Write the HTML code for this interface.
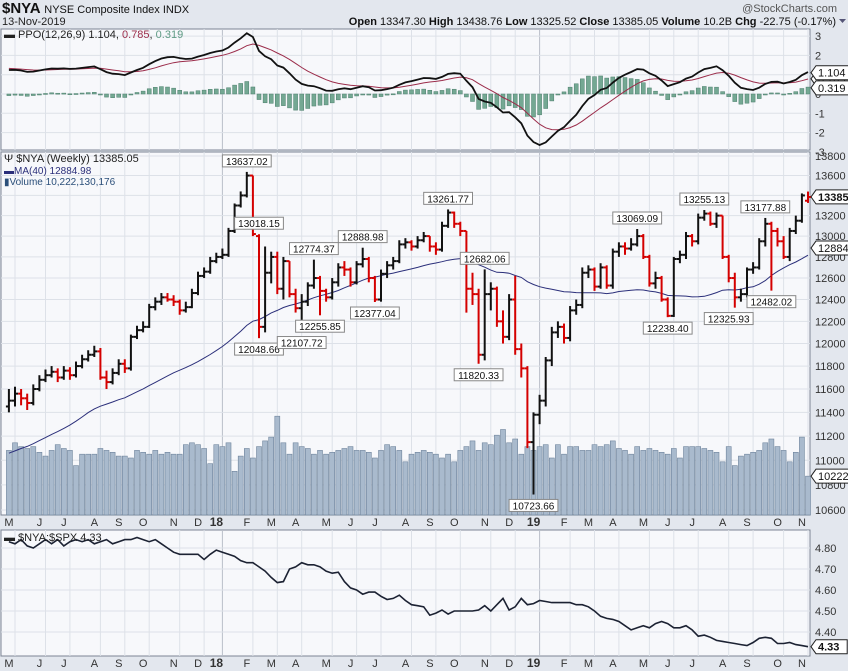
<!DOCTYPE html>
<html><head><meta charset="utf-8">
<style>
body{margin:0;background:#e3e7ee;font-family:"Liberation Sans",sans-serif;}
svg{display:block}
text{font-family:"Liberation Sans",sans-serif;}
</style></head><body>
<svg id="c" width="848" height="671" viewBox="0 0 848 671" xmlns="http://www.w3.org/2000/svg">
<rect x="0" y="0" width="848" height="671" fill="#e3e7ee"/>
<g>
<text x="2" y="13" font-size="15" font-weight="bold" fill="#111">$NYA <tspan font-size="11" font-weight="normal">NYSE Composite Index  INDX</tspan></text>
<text x="2" y="25" font-size="11" fill="#222">13-Nov-2019</text>
<text x="837" y="12" font-size="11" fill="#555" text-anchor="end">@StockCharts.com</text>
<text x="836" y="25" font-size="11" fill="#111" text-anchor="end"><tspan font-weight="bold">Open</tspan> 13347.30 <tspan font-weight="bold">High</tspan> 13438.76 <tspan font-weight="bold">Low</tspan> 13325.52 <tspan font-weight="bold">Close</tspan> 13385.05 <tspan font-weight="bold">Volume</tspan> 10.2B <tspan font-weight="bold">Chg</tspan> -22.75 (-0.17%)</text>
<path d="M839 19 l7 0 l-3.5 4z" fill="#557"/>
</g>
<g id="ppoP"></g>
<g id="mainP"></g>
<g id="ratP"></g>
</svg>
<script>
const closes=[11500,11560,11520,11480,11600,11680,11720,11750,11700,11760,11720,11800,11860,11900,11930,11700,11660,11740,11820,11780,12060,12120,12150,12330,12380,12420,12400,12380,12300,12330,12460,12620,12660,12760,12800,12820,13050,13300,13400,13600,13020,12150,12650,12800,12500,12760,12450,12320,12380,12530,12600,12480,12420,12560,12700,12680,12560,12730,12780,12600,12400,12640,12720,12760,12920,12940,12900,12960,13000,12900,12870,13100,13230,13120,13050,12500,12450,11900,12450,12500,12200,12060,12400,11950,11780,11150,11380,11500,11850,12100,12150,12050,12300,12350,12650,12680,12520,12700,12530,12850,12900,12880,12920,13000,12800,12550,12600,12400,12250,12780,12820,13000,12950,13180,13220,13120,13200,12800,12600,12420,12450,12680,12700,12950,13120,13050,12950,12800,13050,13150,13400,13385.05];
const opens=[11450,11500,11560,11520,11480,11600,11680,11720,11750,11700,11760,11720,11800,11860,11900,11930,11700,11660,11740,11820,11780,12060,12120,12150,12330,12380,12420,12400,12380,12300,12330,12460,12620,12660,12760,12800,12820,13050,13300,13400,13600,13000,12150,12650,12800,12500,12760,12450,12320,12380,12530,12600,12480,12420,12560,12700,12680,12560,12730,12780,12600,12400,12640,12720,12760,12920,12940,12900,12960,13000,12900,12870,13100,13230,13120,13050,12500,12450,11900,12450,12500,12200,12060,12400,11950,11780,11150,11380,11500,11850,12100,12150,12050,12300,12350,12650,12680,12520,12700,12530,12850,12900,12880,12920,13000,12800,12550,12600,12400,12250,12780,12820,13000,12950,13180,13220,13120,13200,12800,12600,12420,12450,12680,12700,12950,13120,13050,12950,12800,13050,13150,13347.3];
const highs=[11600,11620,11600,11560,11640,11720,11770,11800,11780,11800,11790,11840,11900,11940,11980,11960,11760,11780,11860,11860,12080,12160,12200,12360,12420,12460,12460,12440,12400,12380,12500,12660,12700,12800,12840,12880,13080,13320,13440,13637,13600,13018,12900,12850,12850,12800,12760,12500,12450,12560,12774,12620,12500,12600,12740,12760,12700,12760,12888,12800,12620,12680,12760,12800,12960,12980,12960,13000,13040,13000,12940,13140,13261,13240,13140,13050,12650,12500,12682,12560,12520,12300,12450,12620,12000,11800,11400,11550,11880,12150,12200,12180,12340,12400,12700,12720,12700,12740,12720,12880,12940,12940,12980,13069,13020,12820,12660,12620,12420,12800,12860,13040,13020,13220,13255,13240,13230,13200,12820,12650,12500,12700,12750,12980,13177,13140,13080,13000,13080,13200,13420,13438.76];
const lows=[11400,11450,11460,11420,11460,11580,11660,11700,11660,11680,11680,11700,11780,11840,11880,11680,11600,11640,11720,11740,11760,12040,12100,12140,12300,12350,12380,12340,12260,12280,12320,12440,12600,12640,12740,12780,12800,13030,13280,13380,13000,12048,12100,12550,12450,12400,12420,12280,12107,12340,12500,12255,12380,12400,12520,12620,12520,12540,12700,12560,12377,12380,12600,12680,12740,12880,12860,12880,12940,12850,12820,12850,13080,13080,13000,12280,12350,11820,11850,12300,12150,12000,12030,11900,11700,11100,10723,11300,11450,11800,12050,12000,12020,12260,12320,12600,12480,12500,12500,12500,12800,12820,12860,12900,12780,12520,12500,12380,12238,12240,12740,12780,12900,12920,13150,13100,13080,12780,12560,12325,12380,12420,12640,12680,12900,12482,12900,12780,12760,13020,13130,13325.52];
const priorCloses=[10800,10750,10780,10700,10650,10720,10680,10750,10700,10600,10500,10450,10400,10650,10800,10950,11000,11050,11100,11050,11080,11150,11200,11250,11300,11250,11320,11380,11420,11450,11500,11450,11480,11400,11350,11380,11420,11480,11500];
const volumesB=[17,19,18,17.5,18,16.5,15.5,17,18.5,17.5,17,13,16,16,16,17.5,17,16.5,15.5,15.5,15,17,16.5,16,17,16,16.5,16,16,18.5,19,18.5,17.5,13.5,18.5,18,19,11.5,15.5,17.5,15,18,19.5,20.5,26,19,16,19,18,17.5,16,17,16,16.5,17,17.5,18,17,17,16.5,15,17,18.5,18,17,14,16,16.5,17,16.5,16,15,16,14,17,18,19.5,17,19,18.5,21,22.5,19,20,16,18,17,18,18.5,15,18.5,16,18,18,17,17,18.5,18,18.5,19.5,17.5,17,16,18,17,17.5,17,16.5,16,17.5,15,18,18,18,17.5,17,16.5,14,18,13,15.5,16,16.5,17,19,20,18,17,14,16.5,20.5,10.22];
const ratio=[4.83,4.82,4.84,4.81,4.80,4.82,4.84,4.82,4.84,4.81,4.83,4.84,4.83,4.84,4.82,4.83,4.84,4.82,4.83,4.84,4.84,4.85,4.84,4.83,4.84,4.82,4.80,4.78,4.77,4.77,4.77,4.77,4.745,4.77,4.79,4.78,4.77,4.76,4.74,4.73,4.73,4.71,4.69,4.66,4.635,4.64,4.70,4.71,4.73,4.72,4.72,4.71,4.69,4.68,4.685,4.64,4.61,4.60,4.58,4.59,4.59,4.57,4.555,4.56,4.575,4.55,4.53,4.525,4.52,4.48,4.49,4.505,4.485,4.50,4.50,4.50,4.50,4.505,4.525,4.50,4.53,4.56,4.505,4.52,4.56,4.53,4.535,4.55,4.545,4.54,4.54,4.54,4.54,4.53,4.53,4.52,4.50,4.475,4.465,4.46,4.45,4.43,4.41,4.42,4.43,4.42,4.44,4.45,4.44,4.42,4.42,4.43,4.41,4.38,4.385,4.375,4.36,4.355,4.35,4.345,4.34,4.335,4.35,4.37,4.375,4.37,4.345,4.345,4.35,4.34,4.335,4.33];
const monthLabels=["M","J","J","A","S","O","N","D","18","F","M","A","M","J","J","A","S","O","N","D","19","F","M","A","M","J","J","A","S","O","N"];
const monthBarIdx=[1,6,10,15,19,23,28,32,35,40,44,48,53,57,61,66,70,74,79,83,87,92,96,100,105,109,113,118,122,127,131];
const priceTicks=[10600,10800,11000,11200,11400,11600,11800,12000,12200,12400,12600,12800,13000,13200,13400,13600,13800];
const ppoTicks=[-3,-2,-1,0,1,2,3];
const ratioTicks=[4.40,4.50,4.60,4.70,4.80];
const callouts=[[39,13637.02,1],[41,13018.15,1],[41,12048.66,0],[48,12107.72,0],[50,12774.37,1],[51,12255.85,0],[58,12888.98,1],[60,12377.04,0],[72,13261.77,1],[77,11820.33,0],[78,12682.06,1],[86,10723.66,0],[103,13069.09,1],[108,12238.40,0],[114,13255.13,1],[118,12325.93,0],[124,13177.88,1],[125,12482.02,0]];

const NS="http://www.w3.org/2000/svg";
const N=closes.length;
const PL=1,PR=810;
function xb(i){return PR-2-(N-1-i)*6.1;}
function mk(tag,attrs,parent){const e=document.createElementNS(NS,tag);for(const k in attrs)e.setAttribute(k,attrs[k]);parent.appendChild(e);return e;}
function yPrice(p){return 510-1342*Math.log(p/10600);}
function yPpo(v){return 94-v*19.3;}
function yRat(v){return 548+(4.80-v)*210;}
function yVol(v){return 515-v*3.8;}

function panel(g,y0,y1,name){
  const r=mk('rect',{x:PL,y:y0,width:PR-PL,height:y1-y0,fill:'#f7f8fb',stroke:'#7c8594','stroke-width':1},g);
  
  monthBarIdx.forEach((bi,k)=>{const l=mk('line',{x1:xb(bi),x2:xb(bi),y1:y0,y2:y1,stroke:(monthLabels[k].length>1?'#b9bfca':'#dde1e8'),'stroke-width':1},g);
    });
}
function hgrid(g,y,label,name,fmt){
  const l=mk('line',{x1:PL,x2:PR,y1:y,y2:y,stroke:'#dde1e8'},g);
  
  const t=mk('text',{x:815,y:y+4,'font-size':11,fill:'#333'},g);t.textContent=label;
  
}
function tag(g,y,txt,bold,name){
  const w=txt.length*6.3+6;
  const p=mk('path',{d:`M811 ${y} l5 -7 h${w} v14 h-${w} z`,fill:'#fff',stroke:'#222','stroke-width':1},g);
  
  const t=mk('text',{x:818,y:y+4,'font-size':11,fill:'#111','font-weight':bold?'bold':'normal'},g);t.textContent=txt;
  
}
function xlabels(g,y){
  monthBarIdx.forEach((bi,k)=>{const t=mk('text',{x:xb(bi)-6,y:y,'font-size':monthLabels[k].length>1?12:11,'font-weight':monthLabels[k].length>1?'bold':'normal',fill:'#333','text-anchor':'middle'},g);
    t.textContent=monthLabels[k];});
}

// indicators
const all=priorCloses.concat(closes);
function ema(arr,n){const k=2/(n+1);const out=[];let e=arr[0];arr.forEach(v=>{e=v*k+e*(1-k);out.push(e);});return out;}
const e12=ema(all,12),e26=ema(all,26);
const ppoAll=all.map((v,i)=>(e12[i]-e26[i])/e26[i]*100);
const sigAll=ema(ppoAll,9);
const off=priorCloses.length;
const ppo=ppoAll.slice(off),sig=sigAll.slice(off);
const ma=closes.map((v,i)=>{const s=all.slice(i+off-39,i+off+1);return s.reduce((a,b)=>a+b,0)/s.length;});

// PPO panel
const gP=document.getElementById('ppoP');
panel(gP,29,150,'ppo');
ppoTicks.forEach(v=>hgrid(gP,yPpo(v),String(v),'ppo-y'));
ppo.forEach((v,i)=>{const h=v-sig[i];const y0=yPpo(0),y1=yPpo(h);
  const r=mk('rect',{x:xb(i)-2,y:Math.min(y0,y1),width:4,height:Math.max(1,Math.abs(y1-y0)),fill:'#74a893',stroke:'#4c7f6c','stroke-width':0.5},gP);
  });
let pS=mk('path',{d:sig.map((v,i)=>(i?'L':'M')+xb(i).toFixed(1)+' '+yPpo(v).toFixed(1)).join(''),fill:'none',stroke:'#9b2c4a','stroke-width':1},gP);

let pL=mk('path',{d:ppo.map((v,i)=>(i?'L':'M')+xb(i).toFixed(1)+' '+yPpo(v).toFixed(1)).join(''),fill:'none',stroke:'#111','stroke-width':1.8},gP);

let lt=mk('text',{x:4,y:38,'font-size':11,fill:'#222'},gP);
lt.innerHTML='<tspan font-weight="bold">▬</tspan> PPO(12,26,9) 1.104, <tspan fill="#9b2c4a">0.785</tspan>, <tspan fill="#5f9b85">0.319</tspan>';

tag(gP,yPpo(0.785),'0.785',false,'ppo-signal');
tag(gP,yPpo(0.319),'0.319',false,'ppo-hist');
tag(gP,yPpo(1.104),'1.104',false,'ppo');

// Main panel
const gM=document.getElementById('mainP');
panel(gM,152,515,'price');
priceTicks.forEach(v=>hgrid(gM,yPrice(v),String(v),'price-y'));
volumesB.forEach((v,i)=>{const y=yVol(v);
  const r=mk('rect',{x:xb(i)-2.5,y:y,width:5,height:515-y,fill:'#a9bacd',stroke:'#6f849c','stroke-width':0.6},gM);
  });
let mL=mk('path',{d:ma.map((v,i)=>(i?'L':'M')+xb(i).toFixed(1)+' '+yPrice(v).toFixed(1)).join(''),fill:'none',stroke:'#2b2f7a','stroke-width':1},gM);

closes.forEach((c,i)=>{const x=xb(i);const up=i==0?c>=opens[i]:c>=closes[i-1];const col=up?'#111':'#d40000';
  const g=mk('g',{stroke:col,'stroke-width':2},gM);
  
  mk('line',{x1:x,x2:x,y1:yPrice(highs[i]),y2:yPrice(lows[i])},g);
  mk('line',{x1:x-3,x2:x,y1:yPrice(opens[i]),y2:yPrice(opens[i])},g);
  mk('line',{x1:x,x2:x+3,y1:yPrice(c),y2:yPrice(c)},g);});
callouts.forEach(([i,v,above])=>{const x=xb(i);const y=yPrice(v);const txt=v.toFixed(2);const w=txt.length*5.6+4;
  const by=above?y-17:y+5;
  const g=mk('g',{},gM);
  mk('rect',{x:x-w/2,y:by,width:w,height:12,fill:'#fff',stroke:'#888','stroke-width':1},g);
  const t=mk('text',{x:x,y:by+10,'font-size':10,fill:'#111','text-anchor':'middle'},g);t.textContent=txt;});
let ml=mk('text',{x:4,y:162,'font-size':11,fill:'#222'},gM);ml.textContent='\u03A8 $NYA (Weekly) 13385.05';

let ml2=mk('text',{x:4,y:174,'font-size':10,fill:'#2b2f7a'},gM);ml2.textContent='▬MA(40) 12884.98';

let ml3=mk('text',{x:4,y:185,'font-size':10,fill:'#2b4f7a'},gM);ml3.textContent='▮Volume 10,222,130,176';

tag(gM,yVol(10.22),'10222',false,'volume');
tag(gM,yPrice(12884.98),'12884.',false,'ma');
tag(gM,yPrice(13385.05),'13385.',true,'price');
xlabels(gM,526);

// Ratio panel
const gR=document.getElementById('ratP');
panel(gR,530,656,'ratio');
ratioTicks.forEach(v=>hgrid(gR,yRat(v),v.toFixed(2),'ratio-y'));
let rL=mk('path',{d:ratio.map((v,i)=>(i?'L':'M')+xb(i).toFixed(1)+' '+yRat(v).toFixed(1)).join(''),fill:'none',stroke:'#1c2233','stroke-width':1.6},gR);

let rl=mk('text',{x:4,y:541,'font-size':11,fill:'#222'},gR);rl.textContent='▬ $NYA:$SPX 4.33';

tag(gR,yRat(4.33),'4.33',true,'ratio');
xlabels(gR,667);
</script>
</body></html>
